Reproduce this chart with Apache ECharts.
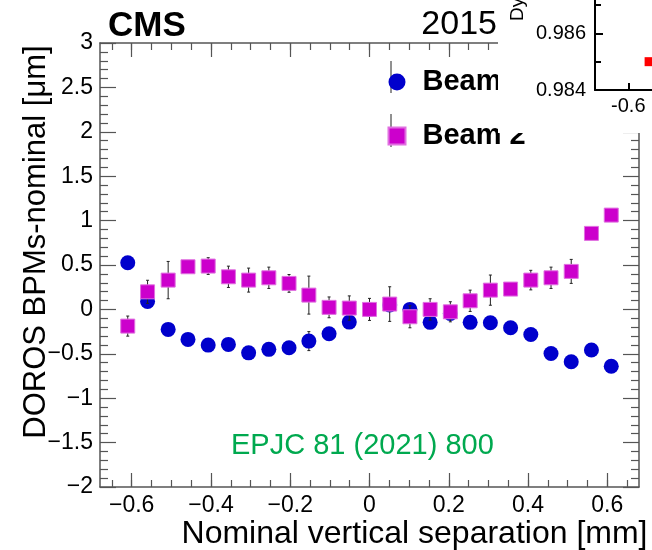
<!DOCTYPE html>
<html>
<head>
<meta charset="utf-8">
<script src="https://cdn.jsdelivr.net/npm/echarts@6/dist/echarts.min.js"></script>
<style>
  html, body { margin: 0; padding: 0; background: #fff; }
  #chart { width: 652px; height: 550px; }
</style>
</head>
<body>
<div id="chart"></div>
<script>
// nominal separation [mm] and DOROS residuals [um]
const separation = [-0.61, -0.56, -0.508, -0.458, -0.407, -0.356, -0.305, -0.254, -0.203, -0.153, -0.102, -0.051, 0,
  0.051, 0.102, 0.153, 0.204, 0.254, 0.305, 0.356, 0.407, 0.458, 0.509, 0.56, 0.61];
const beam1 = [0.525, 0.09, -0.225, -0.338, -0.402, -0.394, -0.489, -0.45, -0.432, -0.357, -0.275, -0.143, 0,
  0.05, 0.0, -0.146, -0.045, -0.146, -0.15, -0.207, -0.282, -0.496, -0.59, -0.458, -0.64];
const beam1Err = [0.06, 0.06, 0.06, 0.06, 0.06, 0.06, 0.06, 0.06, 0.06, 0.107, 0.06, 0.06, 0.06,
  0.06, 0.06, 0.06, 0.06, 0.06, 0.06, 0.06, 0.06, 0.06, 0.06, 0.06, 0.06];
const beam2 = [-0.188, 0.198, 0.33, 0.48, 0.488, 0.367, 0.33, 0.356, 0.293, 0.161, 0.023, 0.015, 0,
  0.06, -0.083, 0.0, -0.027, 0.097, 0.217, 0.229, 0.33, 0.356, 0.428, 0.856, 1.062];
const beam2Err = [0.113, 0.13, 0.21, 0.06, 0.094, 0.12, 0.135, 0.12, 0.1, 0.214, 0.117, 0.137, 0.124,
  0.195, 0.124, 0.12, 0.113, 0.12, 0.17, 0.06, 0.11, 0.12, 0.135, 0.06, 0.06];

const xMajorTicks = [-0.6, -0.4, -0.2, 0, 0.2, 0.4, 0.6];
const xMinorTicks = [-0.65, -0.6, -0.55, -0.5, -0.45, -0.4, -0.35, -0.3, -0.25, -0.2, -0.15, -0.1, -0.05, 0,
  0.05, 0.1, 0.15, 0.2, 0.25, 0.3, 0.35, 0.4, 0.45, 0.5, 0.55, 0.6, 0.65];
const yMajorTicks = [-2, -1.5, -1, -0.5, 0, 0.5, 1, 1.5, 2, 2.5, 3];
const yMinorTicks = [-1.9, -1.8, -1.7, -1.6, -1.4, -1.3, -1.2, -1.1, -0.9, -0.8, -0.7, -0.6, -0.4, -0.3, -0.2, -0.1,
  0.1, 0.2, 0.3, 0.4, 0.6, 0.7, 0.8, 0.9, 1.1, 1.2, 1.3, 1.4, 1.6, 1.7, 1.8, 1.9, 2.1, 2.2, 2.3, 2.4, 2.6, 2.7, 2.8, 2.9];

// clipped corner of the neighbouring figure
const insetXTicks = [-0.6, -0.4, -0.2, 0, 0.2, 0.4, 0.6];
const insetPoint = [[-0.55, 0.985]];

const FONT = "'Liberation Sans', Arial, Helvetica, sans-serif";
const AXIS_GREY = '#555';
const BLUE = '#0000cc';
const MAGENTA = '#cc00cc';

const fmtMinus = v => (v < 0 ? '\u2212' : '') + String(Math.abs(v));
const pairs = ys => ys.map((v, i) => [separation[i], v]);

const chart = echarts.init(document.getElementById('chart'));

function errorBars(vals, errs, z) {
  return {
    type: 'custom',
    xAxisIndex: 0,
    yAxisIndex: 0,
    z: z,
    silent: true,
    data: vals.map((v, i) => [separation[i], v, errs[i]]),
    renderItem: (params, api) => {
      const x = api.value(0), y = api.value(1), e = api.value(2);
      const lo = api.coord([x, y - e]);
      const hi = api.coord([x, y + e]);
      const style = { stroke: '#222', lineWidth: 1 };
      return {
        type: 'group',
        children: [
          { type: 'line', shape: { x1: lo[0], y1: lo[1], x2: hi[0], y2: hi[1] }, style },
          { type: 'line', shape: { x1: lo[0] - 1.5, y1: lo[1], x2: lo[0] + 1.5, y2: lo[1] }, style },
          { type: 'line', shape: { x1: hi[0] - 1.5, y1: hi[1], x2: hi[0] + 1.5, y2: hi[1] }, style }
        ]
      };
    }
  };
}

const frameLine = { onZero: false, lineStyle: { color: AXIS_GREY, width: 1.5 } };
const tickStyle = { color: AXIS_GREY, width: 1.2 };

const mainX = (extra) => Object.assign({
  type: 'value', gridIndex: 0, min: -0.68, max: 0.68,
  splitLine: { show: false },
  axisLabel: { show: false },
  axisLine: frameLine
}, extra);

const mainY = (extra) => Object.assign({
  type: 'value', gridIndex: 0, min: -2, max: 3,
  splitLine: { show: false },
  axisLabel: { show: false },
  axisLine: frameLine
}, extra);

const option = {
  backgroundColor: '#fff',
  animation: false,
  textStyle: { fontFamily: FONT },
  title: [
    { text: 'CMS', left: 108, top: 9, padding: 0,
      textStyle: { fontFamily: FONT, fontSize: 35, fontWeight: 'bold', color: '#000' } },
    { text: '2015', right: 155, top: 8, padding: 0,
      textStyle: { fontFamily: FONT, fontSize: 34, fontWeight: 'normal', color: '#000' } },
    { text: 'EPJC 81 (2021) 800', left: 231, top: 431, padding: 0,
      textStyle: { fontFamily: FONT, fontSize: 29, fontWeight: 'normal', color: '#00a94f' } }
  ],
  legend: {
    orient: 'vertical',
    left: 382.5,
    top: 62,
    itemWidth: 17,
    itemHeight: 17,
    itemGap: 24,
    selectedMode: false,
    data: [
      { name: 'Beam 1', icon: 'circle' },
      { name: 'Beam 2', icon: 'path://M0,0H10V10H0Z' }
    ],
    textStyle: {
      fontFamily: FONT, fontSize: 29, fontWeight: 'bold', color: '#000', lineHeight: 30,
      padding: [0, 0, 0, 12]
    }
  },
  grid: [
    { left: 100, top: 43, width: 539, height: 444, outerBoundsMode: 'none' },
    { left: 595, top: -80, width: 566, height: 170, outerBoundsMode: 'none' }
  ],
  xAxis: [
    mainX({
      position: 'bottom',
      axisTick: { inside: true, length: 14, customValues: xMajorTicks, lineStyle: tickStyle },
      axisLabel: {
        show: true, customValues: xMajorTicks, formatter: fmtMinus, margin: 7,
        fontFamily: FONT, fontSize: 23, color: '#000'
      },
      name: 'Nominal vertical separation [mm]',
      nameLocation: 'middle',
      nameGap: 31,
      nameMoveOverlap: false,
      nameTextStyle: {
        fontFamily: FONT, fontSize: 32, color: '#000',
        padding: [0, 0, 0, 90]
      }
    }),
    mainX({
      position: 'bottom',
      axisLine: { show: false, onZero: false },
      axisTick: { inside: true, length: 7, customValues: xMinorTicks, lineStyle: tickStyle }
    }),
    mainX({
      position: 'top',
      axisTick: { inside: true, length: 14, customValues: xMajorTicks, lineStyle: tickStyle }
    }),
    mainX({
      position: 'top',
      axisLine: { show: false, onZero: false },
      axisTick: { inside: true, length: 7, customValues: xMinorTicks, lineStyle: tickStyle }
    }),
    {
      type: 'value', gridIndex: 1, min: -0.68, max: 0.68, z: 30,
      splitLine: { show: false },
      axisLine: { onZero: false, lineStyle: { color: '#000', width: 2 } },
      axisTick: { inside: true, length: 7, customValues: insetXTicks, lineStyle: { color: '#000', width: 2 } },
      axisLabel: {
        customValues: insetXTicks, margin: 6, formatter: v => String(v),
        fontFamily: FONT, fontSize: 20, color: '#000'
      }
    }
  ],
  yAxis: [
    mainY({
      position: 'left',
      axisTick: { inside: true, length: 16, customValues: yMajorTicks, lineStyle: tickStyle },
      axisLabel: {
        show: true, customValues: yMajorTicks, formatter: fmtMinus, margin: 7,
        fontFamily: FONT, fontSize: 23, color: '#000'
      },
      name: 'DOROS BPMs-nominal [\u03bcm]',
      nameLocation: 'middle',
      nameRotate: 90,
      nameGap: 48,
      nameMoveOverlap: false,
      nameTextStyle: { fontFamily: FONT, fontSize: 31, color: '#000', padding: [0, 0, 0, 46] }
    }),
    mainY({
      position: 'left',
      axisLine: { show: false, onZero: false },
      axisTick: { inside: true, length: 8, customValues: yMinorTicks, lineStyle: tickStyle }
    }),
    mainY({
      position: 'right',
      axisTick: { inside: true, length: 16, customValues: yMajorTicks, lineStyle: tickStyle }
    }),
    mainY({
      position: 'right',
      axisLine: { show: false, onZero: false },
      axisTick: { inside: true, length: 8, customValues: yMinorTicks, lineStyle: tickStyle }
    }),
    {
      type: 'value', gridIndex: 1, min: 0.984, max: 0.99, interval: 0.002, z: 30,
      splitLine: { show: false },
      axisLine: { onZero: false, lineStyle: { color: '#000', width: 2 } },
      axisTick: { inside: true, length: 8, lineStyle: { color: '#000', width: 2 } },
      minorTick: { show: true, splitNumber: 2, length: 6, lineStyle: { color: '#000', width: 2 } },
      axisLabel: {
        margin: 9, formatter: v => v.toFixed(3),
        fontFamily: FONT, fontSize: 20, color: '#000'
      }
    }
  ],
  graphic: [
    // legend error bars, under the legend markers
    { type: 'line', z: 3, shape: { x1: 391, y1: 61, x2: 391, y2: 93 }, style: { stroke: '#222', lineWidth: 1 } },
    { type: 'line', z: 3, shape: { x1: 391, y1: 114, x2: 391, y2: 147 }, style: { stroke: '#222', lineWidth: 1 } },
    // white pad of the neighbouring figure covering the corner
    { type: 'rect', z: 20, shape: { x: 498, y: 0, width: 160, height: 133 }, style: { fill: '#fff' } },
    {
      type: 'text', z: 31, x: 518, y: 21, rotation: Math.PI / 2,
      style: { text: 'Dynamic-\u03b2 correction', fontFamily: FONT, fontSize: 19, fill: '#000',
        align: 'left', verticalAlign: 'middle' }
    }
  ],
  series: [
    errorBars(beam1, beam1Err, 2),
    {
      name: 'Beam 1', type: 'scatter', xAxisIndex: 0, yAxisIndex: 0, z: 3,
      symbol: 'circle', symbolSize: 15,
      itemStyle: { color: BLUE, opacity: 1 },
      data: pairs(beam1)
    },
    errorBars(beam2, beam2Err, 4),
    {
      name: 'Beam 2', type: 'scatter', xAxisIndex: 0, yAxisIndex: 0, z: 5,
      symbol: 'rect', symbolSize: 14,
      itemStyle: { color: MAGENTA, borderColor: '#e070e0', borderWidth: 1, opacity: 1 },
      data: pairs(beam2)
    },
    {
      name: 'inset', type: 'scatter', xAxisIndex: 4, yAxisIndex: 4, z: 31,
      symbol: 'rect', symbolSize: 9, silent: true,
      itemStyle: { color: '#ff0000', opacity: 1 },
      data: insetPoint
    }
  ]
};

chart.setOption(option);
</script>
</body>
</html>
